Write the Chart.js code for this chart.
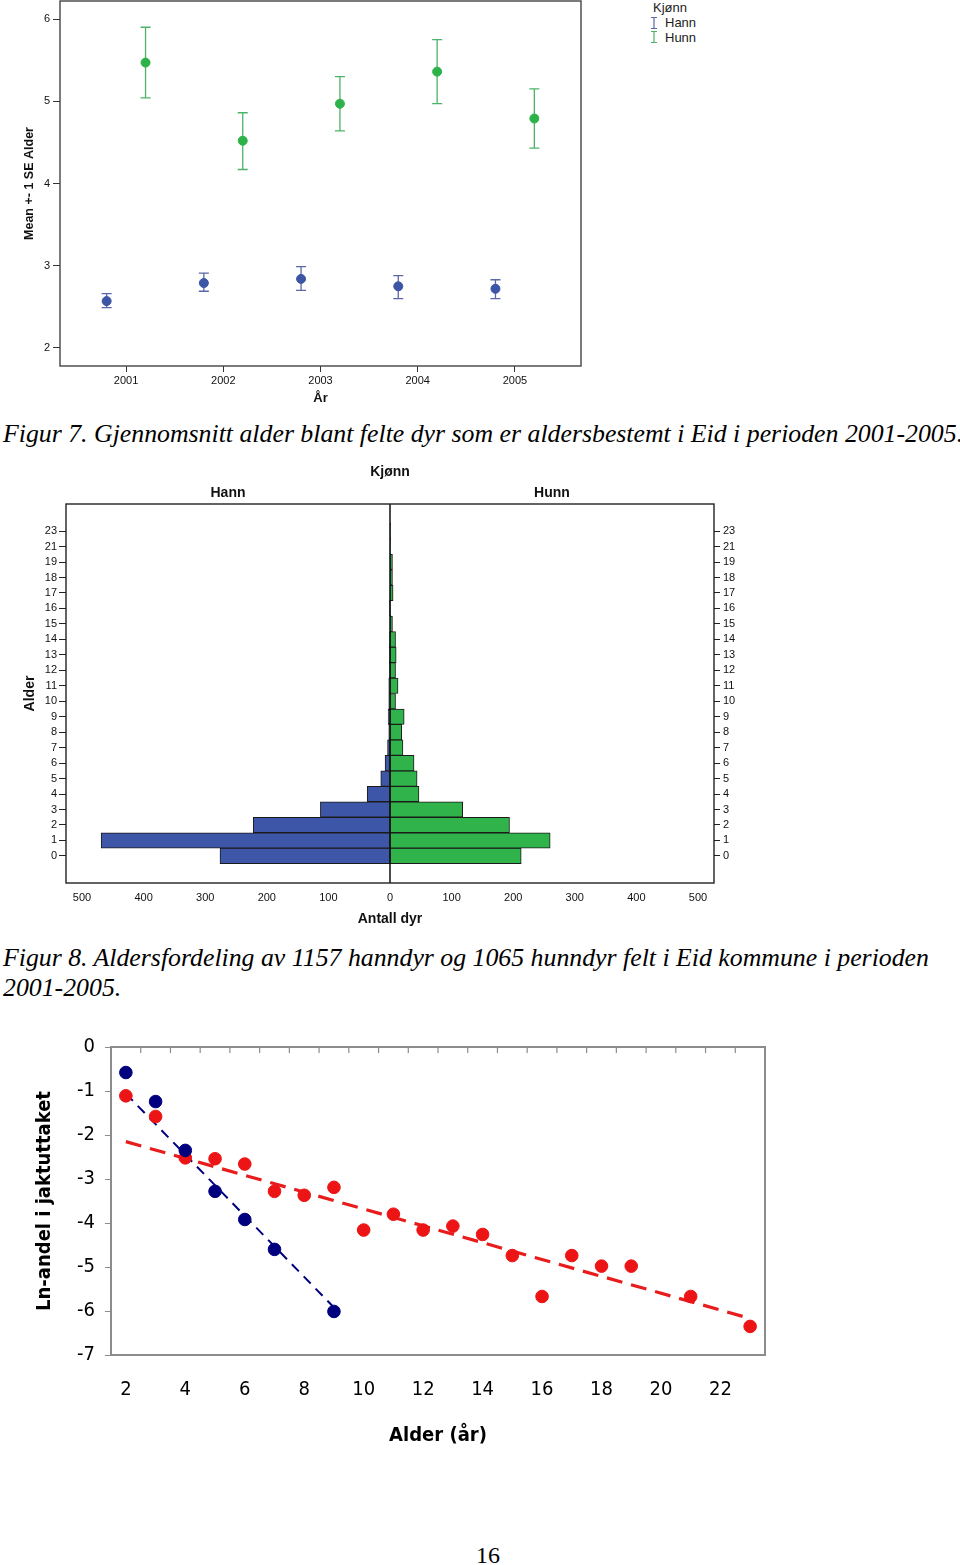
<!DOCTYPE html>
<html><head><meta charset="utf-8">
<script src="https://cdn.jsdelivr.net/npm/chart.js@4.4.1/dist/chart.umd.min.js"></script>
<style>
body{margin:0;background:#fff;}
#page{position:relative;width:960px;height:1565px;overflow:hidden;background:#fff}
.abs{position:absolute}
.cap{position:absolute;left:3px;font-family:"Liberation Serif","Times New Roman",serif;font-style:italic;font-size:25.8px;line-height:30px;color:#000;white-space:nowrap}
.leg{position:absolute;font-family:"Liberation Sans",Arial,sans-serif;font-size:13px;line-height:15px;color:#222;white-space:nowrap}
</style></head>
<body><div id="page">
<canvas id="ch1" class="abs" width="600" height="410" style="left:0;top:0"></canvas>
<div class="leg" style="left:653px;top:0px">Kjønn</div>
<svg class="abs" style="left:649px;top:16px" width="10" height="14"><path d="M2 1.5H8M5 1.5V12.5M2 12.5H8" stroke="#5a68a8" stroke-width="1.2" fill="none"/></svg>
<div class="leg" style="left:665px;top:15px">Hann</div>
<svg class="abs" style="left:649px;top:30px" width="10" height="14"><path d="M2 1.5H8M5 1.5V12.5M2 12.5H8" stroke="#4cb36a" stroke-width="1.2" fill="none"/></svg>
<div class="leg" style="left:665px;top:30px">Hunn</div>
<div class="cap" style="top:419px">Figur 7. Gjennomsnitt alder blant felte dyr som er aldersbestemt i Eid i perioden 2001-2005.</div>
<canvas id="ch2" class="abs" width="780" height="475" style="left:0;top:460px"></canvas>
<div class="cap" style="top:943px">Figur 8. Aldersfordeling av 1157 hanndyr og 1065 hunndyr felt i Eid kommune i perioden<br>2001-2005.</div>
<canvas id="ch3" class="abs" width="800" height="430" style="left:0;top:1030px"></canvas>
<div class="abs" style="left:0;width:976px;top:1540px;text-align:center;font-family:'Liberation Serif',serif;font-size:24px;line-height:30px">16</div>
</div>
<script>
// ---------- Figure 7 data ----------
const years = [2001, 2002, 2003, 2004, 2005];
const hannMean = [2.57, 2.79, 2.84, 2.75, 2.72];
const hannLow  = [2.49, 2.69, 2.70, 2.60, 2.60];
const hannHigh = [2.66, 2.91, 2.99, 2.88, 2.83];
const hunnMean = [5.47, 4.52, 4.97, 5.36, 4.79];
const hunnLow  = [5.04, 4.17, 4.64, 4.97, 4.43];
const hunnHigh = [5.90, 4.86, 5.30, 5.75, 5.15];
const fig7YTicks = [2, 3, 4, 5, 6];

// ---------- Figure 8 data ----------
const ageLabels = ['0','1','2','3','4','5','6','7','8','9','10','11','12','13','14','15','16','17','18','19','21','23'];
const hannCount = [276, 469, 222, 113, 37, 15, 8, 4, 2, 3, 2, 2, 1, 1, 1, 0, 1, 0, 0, 0, 0, 0];
const hunnCount = [213, 260, 194, 118, 47, 44, 39, 21, 19, 23, 9, 13, 9, 10, 9, 4, 1, 5, 4, 4, 1, 1];
const pyrXTicks = [-500, -400, -300, -200, -100, 0, 100, 200, 300, 400, 500];
const pyrTitle = 'Kjønn';
const pyrSides = ['Hann', 'Hunn'];

// ---------- Figure 9 data ----------
const hannAge = [2, 3, 4, 5, 6, 7, 9];
const hannLn  = [-0.58, -1.24, -2.35, -3.28, -3.92, -4.60, -6.01];
const hunnAge = [2, 3, 4, 5, 6, 7, 8, 9, 10, 11, 12, 13, 14, 15, 16, 17, 18, 19, 21, 23];
const hunnLn  = [-1.11, -1.58, -2.52, -2.54, -2.66, -3.28, -3.37, -3.19, -4.16, -3.80, -4.16, -4.07, -4.26, -4.74, -5.67, -4.74, -4.98, -4.98, -5.67, -6.35];
const hannTrendX = [2, 9];
const hannTrendY = [-1.06, -5.92];
const hunnTrendX = [2, 23];
const hunnTrendY = [-2.15, -6.17];
const fig9XTicks = [2, 4, 6, 8, 10, 12, 14, 16, 18, 20, 22];
const fig9YTicks = [-7, -6, -5, -4, -3, -2, -1, 0];
const fig9Bounds = [1.5, 2.5, 3.5, 4.5, 5.5, 6.5, 7.5, 8.5, 9.5, 10.5, 11.5, 12.5, 13.5, 14.5, 15.5, 16.5, 17.5, 18.5, 19.5, 20.5, 21.5, 22.5, 23.5];

Chart.defaults.color = '#111';
Chart.defaults.font.family = "'Liberation Sans', Arial, sans-serif";

const noPadV = w => s => { s.width = w; s.paddingTop = 0; s.paddingBottom = 0; };
const noPadH = h => s => { s.height = h; s.paddingLeft = 0; s.paddingRight = 0; };

const frame = {
  id: 'frame',
  afterDraw(chart, args, opts) {
    if (!opts || !opts.color) return;
    const a = chart.chartArea, ctx = chart.ctx;
    ctx.save();
    ctx.strokeStyle = opts.color; ctx.lineWidth = opts.width || 1;
    ctx.strokeRect(a.left, a.top, a.right - a.left, a.bottom - a.top);
    ctx.restore();
  }
};

const errorBars = {
  id: 'errorBars',
  beforeDatasetsDraw(chart) {
    const ctx = chart.ctx, xs = chart.scales.x, ys = chart.scales.y;
    chart.data.datasets.forEach(ds => {
      if (!ds.errLow) return;
      ctx.save();
      ctx.strokeStyle = ds.errColor; ctx.lineWidth = 1.3;
      ds.data.forEach((p, i) => {
        const px = xs.getPixelForValue(p.x);
        const y1 = ys.getPixelForValue(ds.errLow[i]);
        const y2 = ys.getPixelForValue(ds.errHigh[i]);
        ctx.beginPath();
        ctx.moveTo(px, y1); ctx.lineTo(px, y2);
        ctx.moveTo(px - 5, y1); ctx.lineTo(px + 5, y1);
        ctx.moveTo(px - 5, y2); ctx.lineTo(px + 5, y2);
        ctx.stroke();
      });
      ctx.restore();
    });
  }
};

// ---------------- Figure 7 ----------------
new Chart(document.getElementById('ch1'), {
  type: 'scatter',
  data: { datasets: [
    { label: 'Hann', data: years.map((y, i) => ({ x: y - 0.2, y: hannMean[i] })),
      errLow: hannLow, errHigh: hannHigh, errColor: '#5a68a8',
      backgroundColor: '#3d55a5', borderColor: '#3d55a5', pointRadius: 4.5, pointHoverRadius: 4.5 },
    { label: 'Hunn', data: years.map((y, i) => ({ x: y + 0.2, y: hunnMean[i] })),
      errLow: hunnLow, errHigh: hunnHigh, errColor: '#4cb36a',
      backgroundColor: '#2db24a', borderColor: '#2db24a', pointRadius: 4.5, pointHoverRadius: 4.5 }
  ]},
  options: {
    responsive: false, animation: false, events: [],
    layout: { autoPadding: false, padding: { top: 1, right: 19, left: 0, bottom: 0 } },
    plugins: { legend: { display: false }, tooltip: { enabled: false }, frame: { color: '#444', width: 1.4 } },
    scales: {
      x: { type: 'linear', min: 2000.32, max: 2005.68,
        afterBuildTicks: s => { s.ticks = years.map(v => ({ value: v })); },
        afterFit: noPadH(44),
        ticks: { callback: v => String(v), padding: 2, color: '#111', font: { size: 11 } },
        grid: { display: true, drawOnChartArea: false, drawTicks: true, tickLength: 6, color: '#333' },
        border: { display: false },
        title: { display: true, text: 'År', font: { size: 13, weight: 'bold' }, color: '#111', padding: { top: 0, bottom: 4 } } },
      y: { type: 'linear', min: 1.781, max: 6.219,
        afterBuildTicks: s => { s.ticks = fig7YTicks.map(v => ({ value: v })); },
        afterFit: noPadV(60),
        ticks: { callback: v => String(v), padding: 3, color: '#111', font: { size: 11 } },
        grid: { display: true, drawOnChartArea: false, drawTicks: true, tickLength: 7, color: '#333' },
        border: { display: false },
        title: { display: true, text: 'Mean +- 1 SE Alder', font: { size: 12.5, weight: 'bold' }, color: '#111', padding: { top: 22.5, bottom: 0 } } }
    }
  },
  plugins: [frame, errorBars]
});

// ---------------- Figure 8 ----------------
const pyrDeco = {
  id: 'pyrDeco',
  afterDatasetsDraw(chart) {
    const ctx = chart.ctx, a = chart.chartArea, x0 = chart.scales.x.getPixelForValue(0);
    ctx.save();
    ctx.strokeStyle = '#111'; ctx.lineWidth = 1.5;
    ctx.beginPath(); ctx.moveTo(x0, a.top); ctx.lineTo(x0, a.bottom); ctx.stroke();
    ctx.fillStyle = '#111';
    ctx.font = "bold 14px 'Liberation Sans', Arial, sans-serif";
    ctx.textAlign = 'center'; ctx.textBaseline = 'middle';
    ctx.fillText(pyrTitle, x0, 12);
    ctx.fillText(pyrSides[0], (a.left + x0) / 2, 33);
    ctx.fillText(pyrSides[1], (a.right + x0) / 2, 33);
    ctx.restore();
  }
};
const pyrY = (pos) => ({
  type: 'linear', position: pos, min: -1.75, max: 22.75, offset: false,
  afterBuildTicks: s => { s.ticks = ageLabels.map((_, i) => ({ value: i })); },
  afterFit: noPadV(66),
  ticks: { callback: (v, i) => ageLabels[i], autoSkip: false, padding: pos === 'left' ? 2 : 3, color: '#111', font: { size: 11 } },
  grid: { display: true, drawOnChartArea: false, drawTicks: true, tickLength: pos === 'left' ? 7 : 6, color: '#222', offset: false },
  border: { display: false },
  title: { display: pos === 'left', text: 'Alder', font: { size: 14, weight: 'bold' }, color: '#111', padding: { top: 21.6, bottom: 0 } }
});
new Chart(document.getElementById('ch2'), {
  type: 'bar',
  data: { datasets: [
    { label: 'Hann', data: hannCount.map((v, i) => ({ x: -v, y: i })), backgroundColor: '#3e56a8', borderColor: '#1b1b1b', borderWidth: 1, borderSkipped: false, barPercentage: 1, categoryPercentage: 1, grouped: false, yAxisID: 'y' },
    { label: 'Hunn', data: hunnCount.map((v, i) => ({ x: v, y: i })), backgroundColor: '#2fb34a', borderColor: '#1b1b1b', borderWidth: 1, borderSkipped: false, barPercentage: 1, categoryPercentage: 1, grouped: false, yAxisID: 'y' }
  ]},
  options: {
    indexAxis: 'y', responsive: false, animation: false, events: [],
    layout: { autoPadding: false, padding: { top: 44, right: 0, left: 0, bottom: 0 } },
    plugins: { legend: { display: false }, tooltip: { enabled: false }, frame: { color: '#222', width: 1.4 } },
    scales: {
      x: { type: 'linear', min: -526, max: 526,
        afterBuildTicks: s => { s.ticks = pyrXTicks.map(v => ({ value: v })); },
        afterFit: noPadH(52),
        ticks: { callback: v => String(Math.abs(v)), padding: 8, color: '#111', font: { size: 11 } },
        grid: { display: false, drawTicks: false },
        border: { display: false },
        title: { display: true, text: 'Antall dyr', font: { size: 14, weight: 'bold' }, color: '#111', padding: { top: 0, bottom: 7.6 } } },
      y: pyrY('left'),
      y2: pyrY('right')
    }
  },
  plugins: [frame, pyrDeco]
});

// ---------------- Figure 9 ----------------
const f3 = "'DejaVu Sans Condensed', 'DejaVu Sans', sans-serif";
const innerTopTicks = {
  id: 'innerTopTicks',
  afterDraw(chart) {
    const ctx = chart.ctx, a = chart.chartArea, xs = chart.scales.x;
    ctx.save();
    ctx.strokeStyle = '#8c8c8c'; ctx.lineWidth = 1.2;
    fig9Bounds.forEach(v => {
      const px = xs.getPixelForValue(v);
      ctx.beginPath(); ctx.moveTo(px, a.top); ctx.lineTo(px, a.top + 6); ctx.stroke();
    });
    ctx.restore();
  }
};
new Chart(document.getElementById('ch3'), {
  type: 'scatter',
  data: { datasets: [
    { label: 'Hann', data: hannAge.map((a, i) => ({ x: a, y: hannLn[i] })), backgroundColor: '#00007e', borderColor: '#00007e', pointRadius: 6.3, pointHoverRadius: 6.3 },
    { label: 'Hunn', data: hunnAge.map((a, i) => ({ x: a, y: hunnLn[i] })), backgroundColor: '#ec1414', borderColor: '#ec1414', pointRadius: 6.3, pointHoverRadius: 6.3 },
    { type: 'line', label: 'Hann trend', data: hannTrendX.map((a, i) => ({ x: a, y: hannTrendY[i] })), borderColor: '#000080', borderWidth: 2, borderDash: [10, 7], pointRadius: 0, fill: false },
    { type: 'line', label: 'Hunn trend', data: hunnTrendX.map((a, i) => ({ x: a, y: hunnTrendY[i] })), borderColor: '#e81c1c', borderWidth: 3.2, borderDash: [16, 9], pointRadius: 0, fill: false }
  ]},
  options: {
    responsive: false, animation: false, events: [],
    layout: { autoPadding: false, padding: { top: 17, right: 35, left: 0, bottom: 0 } },
    plugins: { legend: { display: false }, tooltip: { enabled: false }, frame: { color: '#8c8c8c', width: 2 } },
    scales: {
      x: { type: 'linear', min: 1.5, max: 23.5,
        afterBuildTicks: s => { s.ticks = fig9XTicks.map(v => ({ value: v })); },
        afterFit: noPadH(105),
        ticks: { padding: 23, color: '#000', font: { size: 20, family: f3 } },
        grid: { display: false, drawTicks: false },
        border: { display: false },
        title: { display: true, text: 'Alder (år)', font: { size: 20, weight: 'bold', family: f3 }, color: '#000', padding: { top: 0, bottom: 12 } } },
      y: { type: 'linear', min: -7, max: 0,
        afterBuildTicks: s => { s.ticks = fig9YTicks.map(v => ({ value: v })); },
        afterFit: noPadV(111),
        ticks: { padding: 10, color: '#000', font: { size: 20, family: f3 } },
        grid: { display: true, drawOnChartArea: false, drawTicks: true, tickLength: 6, color: '#8c8c8c' },
        border: { display: false },
        title: { display: true, text: 'Ln-andel i jaktuttaket', font: { size: 20, weight: 'bold', family: f3 }, color: '#000', padding: { top: 33, bottom: 0 } } }
    }
  },
  plugins: [frame, innerTopTicks]
});
</script>
</body></html>
